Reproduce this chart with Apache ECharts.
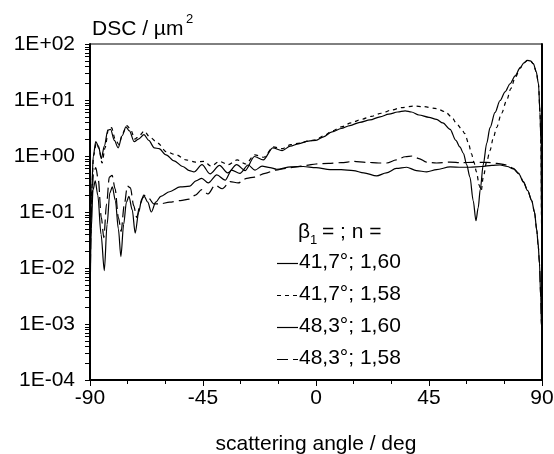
<!DOCTYPE html>
<html>
<head>
<meta charset="utf-8">
<script src="https://cdn.jsdelivr.net/npm/echarts@6/dist/echarts.min.js"></script>
<style>
html,body{margin:0;padding:0;background:#fff;}
#c{width:554px;height:454px;}
</style>
</head>
<body>
<div id="c"></div>
<script>
// ---- data (scattering angle in deg, DSC in um^2) ----
const seriesNames = ["41,7°; 1,60", "41,7°; 1,58", "48,3°; 1,60", "48,3°; 1,58"];
const xTicks = [-90, -45, 0, 45, 90];
const yDecades = [1e-4, 1e-3, 1e-2, 1e-1, 1, 10, 100];

const s1 = [
[-90,0.01],[-89.4,0.2],[-88.7,1.0],[-87.7,1.8],[-86.6,1.5],[-85.5,0.9],[-84.3,1.5],[-82.9,2.9],[-81.8,3.0],
[-80.3,1.9],[-78.8,1.4],[-77.2,2.3],[-75.7,3.3],[-74.3,2.8],[-72.4,1.8],[-70.7,2.0],[-68.5,2.4],[-66.6,1.9],
[-64.4,1.4],[-62.5,1.35],[-59.7,1.05],[-56.5,0.82],[-53.1,0.65],[-50.4,0.55],[-48.6,0.52],[-45.4,0.7],
[-42.2,0.48],[-38.4,0.68],[-35.2,0.5],[-31.6,0.7],[-28.2,0.55],[-24.5,0.98],[-21,0.85],[-17.2,1.4],
[-13.5,1.25],[-10.2,1.5],[-7,1.65],[-3,1.85],[0,1.9],[3,2.2],[6.4,2.7],[10,3.1],[13.5,3.5],[17.5,4.0],
[21.5,4.4],[25.5,5.0],[29,5.6],[32.5,6.1],[35.5,6.4],[38,6.1],[41,5.4],[45,4.9],[48,4.5],[50.5,3.9],
[53.4,3.0],[55.7,1.9],[57.3,1.45],[58.7,1.12],[60,0.7],[61.3,0.42],[62.6,0.16],[63.7,0.07],[64.6,0.12],
[65.4,0.25],[66.6,0.7],[68,1.7],[69.3,3.2],[71.3,6],[73.3,9.8],[75.3,14],[77.3,19.5],[79.3,27],[81.3,38],
[82.8,46],[84.2,51],[85.4,50],[86.6,44],[87.7,32],[88.6,19.5],[89.2,6],[89.6,1.6],[89.85,0.05],[90,0.001]
];
const s2 = [
[-90,0.01],[-89.3,0.25],[-88.6,1.0],[-87.5,1.7],[-86.4,1.35],[-85.2,0.75],[-84,1.4],[-82.6,3.1],[-81.4,3.2],
[-80,2.0],[-78.5,1.6],[-76.9,2.6],[-75.3,3.5],[-73.9,3.0],[-72.1,2.0],[-70.4,2.3],[-68.4,2.8],[-66.3,2.2],
[-63,1.7],[-59.7,1.2],[-55.7,1.05],[-51.8,0.85],[-48,0.78],[-44.6,0.8],[-41.8,0.66],[-38.4,0.8],[-35,0.7],
[-31.4,0.85],[-28,0.72],[-24.4,1.05],[-20.8,0.95],[-17,1.45],[-13.5,1.35],[-10,1.6],[-6.5,1.7],[-3,1.85],
[0,1.95],[3,2.3],[6.5,2.8],[10,3.3],[14,3.9],[18,4.5],[22,5.1],[26,5.8],[30,6.6],[34,7.3],[38.7,7.8],
[43,7.6],[48,7.0],[51.4,6.2],[54,5.0],[56,3.8],[58,3.0],[59.3,2.5],[60.7,1.7],[61.9,1.1],[63,0.75],
[63.9,0.52],[65,0.3],[65.8,0.24],[66.6,0.42],[68,0.8],[69.3,1.25],[70.6,2.1],[71.9,3.2],[73.9,5.8],
[75.9,9.8],[77.6,16],[79.3,25],[81.3,37],[82.8,46],[84.2,51],[85.4,50],[86.6,44],[87.7,32],[88.6,19.5],
[89.2,6],[89.6,1.6],[89.85,0.05],[90,0.001]
];
const s3 = [
[-90,0.002],[-89.5,0.05],[-88.8,0.25],[-87.9,0.36],[-86.9,0.2],[-85.6,0.04],[-84.3,0.009],[-83.2,0.06],
[-82.1,0.22],[-81.1,0.28],[-79.9,0.16],[-78.7,0.05],[-77.7,0.016],[-76.6,0.06],[-75.5,0.15],[-74.5,0.19],
[-73.2,0.11],[-72,0.042],[-70.6,0.1],[-69.4,0.17],[-68.4,0.19],[-67,0.15],[-65.6,0.10],[-63.8,0.15],
[-61.8,0.19],[-58.3,0.23],[-54.1,0.28],[-50.2,0.29],[-47.8,0.36],[-45.5,0.40],[-42.9,0.33],[-39.5,0.46],
[-36.2,0.37],[-33.6,0.56],[-30.3,0.49],[-27,0.69],[-24.3,0.56],[-21.5,0.66],[-18.3,0.62],[-15.7,0.58],
[-10,0.64],[-5.1,0.65],[0,0.62],[5.6,0.57],[10,0.57],[14.9,0.55],[19,0.5],[24.2,0.44],[28,0.5],[32,0.6],
[36.1,0.63],[40,0.55],[44.1,0.52],[48,0.57],[53.4,0.64],[58,0.63],[61.3,0.63],[66,0.65],[70,0.68],
[73.3,0.69],[76.2,0.65],[78.6,0.59],[80.8,0.48],[82.6,0.34],[84.3,0.24],[85.9,0.16],[87,0.1],[87.9,0.048],
[88.5,0.025],[89,0.012],[89.5,0.003],[89.8,0.0009],[90,0.0008]
];
const s4 = [
[-90,0.003],[-89.4,0.12],[-88.6,0.5],[-87.7,0.62],[-86.7,0.38],[-85.5,0.08],[-84.5,0.035],[-83.4,0.14],
[-82.3,0.42],[-81.2,0.45],[-80,0.26],[-78.7,0.08],[-77.6,0.045],[-76.4,0.13],[-75.1,0.29],[-73.9,0.27],
[-72.6,0.13],[-71.4,0.08],[-70,0.14],[-68.6,0.2],[-66.8,0.18],[-64.6,0.14],[-62,0.14],[-58.3,0.15],
[-54,0.16],[-50.5,0.17],[-48,0.2],[-45.5,0.25],[-43,0.21],[-40.2,0.30],[-37.3,0.26],[-34.2,0.35],[-31,0.33],
[-27.6,0.40],[-24.5,0.42],[-20.3,0.49],[-16,0.56],[-12,0.6],[-8,0.64],[-4,0.68],[0,0.72],[5,0.74],[10,0.76],
[15,0.8],[20,0.77],[25,0.75],[28.2,0.75],[32,0.85],[35.5,0.97],[38.5,1.0],[41,0.9],[44,0.78],[48,0.75],
[53.4,0.78],[58,0.76],[62,0.77],[68,0.77],[72,0.74],[75.9,0.69],[78.6,0.6],[80.8,0.49],[82.6,0.35],
[84.3,0.24],[85.9,0.16],[87,0.1],[87.9,0.048],[88.5,0.025],[89,0.012],[89.5,0.003],[89.8,0.0009],[90,0.0008]
];

// ---- chart ----
const FONT = "'Liberation Sans', Arial, Helvetica, sans-serif";
const dashes = ['solid', [4, 4], 'solid', [11, 5]];
function fmtE(v) {
  const e = Math.round(Math.log10(v));
  const a = Math.abs(e);
  return '1E' + (e >= 0 ? '+' : '-') + (a < 10 ? '0' : '') + a;
}
const lineBase = { type: 'line', showSymbol: false, symbol: 'none', smooth: 0.3, smoothMonotone: 'x', z: 3 };
const chart = echarts.init(document.getElementById('c'), null, { renderer: 'canvas' });
chart.setOption({
  animation: false,
  backgroundColor: '#fff',
  textStyle: { fontFamily: FONT, color: '#000' },
  grid: { left: 90, right: 12, top: 44, bottom: 74, containLabel: false, outerBoundsMode: 'none',
          show: true, borderColor: '#000', borderWidth: 1, backgroundColor: 'transparent' },
  xAxis: {
    type: 'value', min: -90, max: 90, interval: 45,
    axisLine: { onZero: false, lineStyle: { color: '#000', width: 2 } },
    axisTick: { length: 6, lineStyle: { color: '#000', width: 1 } },
    minorTick: { show: true, splitNumber: 3, length: 4, lineStyle: { color: '#000', width: 1 } },
    splitLine: { show: false },
    axisLabel: { fontSize: 21, color: '#000', fontFamily: FONT, margin: 8 },
    name: 'scattering angle / deg', nameLocation: 'middle', nameGap: 54,
    nameTextStyle: { fontSize: 21, color: '#000', fontFamily: FONT }
  },
  yAxis: [{
    type: 'log', logBase: 10, min: 1e-4, max: 100, interval: 1,
    axisLine: { show: true, onZero: false, lineStyle: { color: '#000', width: 2 } },
    axisTick: { show: true, length: 5, lineStyle: { color: '#000', width: 1 } },
    splitLine: { show: false },
    axisLabel: { fontSize: 21, color: '#000', fontFamily: FONT, margin: 15, formatter: fmtE }
  }, {
    type: 'value', position: 'right', min: 0, max: 1,
    axisLine: { show: true, onZero: false, lineStyle: { color: '#000', width: 2 } },
    axisTick: { show: false }, axisLabel: { show: false }, splitLine: { show: false }
  }],
  series: seriesNames.map(function (nm, i) {
    return Object.assign({}, lineBase, {
      name: nm, data: [s1, s2, s3, s4][i],
      lineStyle: { color: '#000', width: 1.2, type: dashes[i] }, itemStyle: { color: '#000' }
    });
  })
});

// minor log ticks on the y axis and the legend block, placed via the chart's own scales
const gfx = [
  { type: 'text', left: 92, top: 19, style: { text: 'DSC / µm', font: '21px ' + FONT, fill: '#000' } },
  { type: 'text', left: 186, top: 13, style: { text: '2', font: '13px ' + FONT, fill: '#000' } },
  { type: 'text', left: 298, top: 222, style: { text: 'β', font: '21px ' + FONT, fill: '#000' } },
  { type: 'text', left: 310, top: 234, style: { text: '1', font: '13px ' + FONT, fill: '#000' } },
  { type: 'text', left: 322, top: 222, style: { text: '= ; n =', font: '21px ' + FONT, fill: '#000' } }
];
for (let i = 0; i < yDecades.length - 1; i++) {
  for (let k = 2; k <= 9; k++) {
    const p = chart.convertToPixel({ gridIndex: 0 }, [xTicks[0], k * yDecades[i]]);
    gfx.push({ type: 'rect', silent: true, z: 100,
      shape: { x: p[0] - 5, y: Math.round(p[1]), width: 4, height: 1 },
      style: { fill: '#000' } });
  }
}
seriesNames.forEach(function (nm, i) {
  const yc = 263 + 32 * i;
  gfx.push({ type: 'line', silent: true,
    shape: { x1: 277, y1: yc + 0.5, x2: 298, y2: yc + 0.5 },
    style: { stroke: '#000', lineWidth: 1.2, lineDash: dashes[i] === 'solid' ? null : dashes[i] } });
  gfx.push({ type: 'text', left: 299, top: yc - 11, silent: true,
    style: { text: nm, font: '21px ' + FONT, fill: '#000' } });
});
chart.setOption({ graphic: gfx });
</script>
</body>
</html>
